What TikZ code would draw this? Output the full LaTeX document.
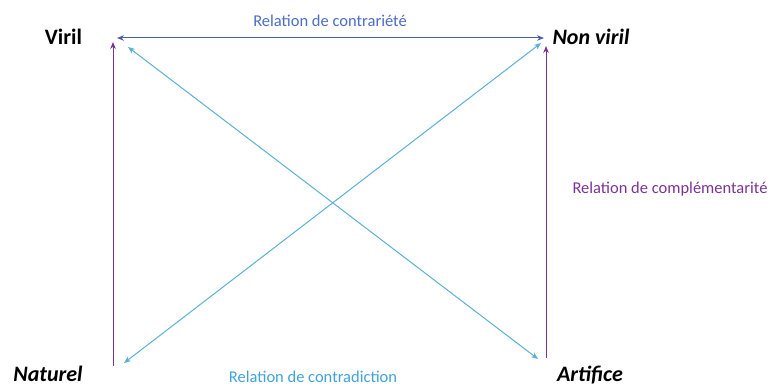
\documentclass[tikz,border=0pt]{standalone}
\usepackage{fontspec}
\setmainfont{Carlito}
\usetikzlibrary{arrows.meta}
\definecolor{contrar}{HTML}{4A5DB0}
\definecolor{contrartxt}{HTML}{4A6CC4}
\definecolor{compl}{HTML}{7B3294}
\definecolor{contrad}{HTML}{5AB0D6}
\definecolor{contradtxt}{HTML}{3FA2DA}
\tikzset{
  corner/.style={font=\fontsize{22}{24}\selectfont\bfseries, anchor=base, inner sep=0pt},
  cornerit/.style={corner, font=\fontsize{22}{24}\selectfont\bfseries\itshape},
  rellabel/.style={font=\fontsize{16.5}{18}\selectfont, anchor=base, inner sep=0pt},
  tip/.style={-{Stealth[length=7pt,width=5.5pt]}},
  dtip/.style={{Stealth[length=7pt,width=5.5pt]}-{Stealth[length=7pt,width=5.5pt]}},
  conn/.style={line width=1pt}
}
\begin{document}
\begin{tikzpicture}[x=1pt,y=-1pt]
\useasboundingbox (0,0) rectangle (773,387);
% text nodes
\node[corner] (viril) at (63.5,45) {Viril};
\node[cornerit] (nonviril) at (591,45) {Non viril};
\node[cornerit] (naturel) at (48,381) {Naturel};
\node[cornerit] (artifice) at (590,381) {Artifice};
\node[rellabel, text=contrartxt] (lcontrar) at (330,27) {Relation de contrariété};
\node[rellabel, text=contradtxt] (lcontrad) at (313,382) {Relation de contradiction};
\node[rellabel, text=compl] (lcompl) at (670,194) {Relation de complémentarité};
% arrow end points
\coordinate (hL) at (117,38);
\coordinate (hR) at (544,38);
\coordinate (vLt) at (113,42);
\coordinate (vLb) at (113,366);
\coordinate (vRt) at (546,46);
\coordinate (vRb) at (546,358);
\coordinate (d1a) at (128,47);
\coordinate (d1b) at (538,359);
\coordinate (d2a) at (124,363);
\coordinate (d2b) at (541,43);
% connectors
\draw[conn, draw=contrar, dtip] (hL) -- (hR);
\draw[conn, draw=compl, tip] (vLb) -- (vLt);
\draw[conn, draw=compl, tip] (vRb) -- (vRt);
\draw[conn, draw=contrad, dtip] (d1a) -- (d1b);
\draw[conn, draw=contrad, dtip] (d2a) -- (d2b);
\end{tikzpicture}
\end{document}
